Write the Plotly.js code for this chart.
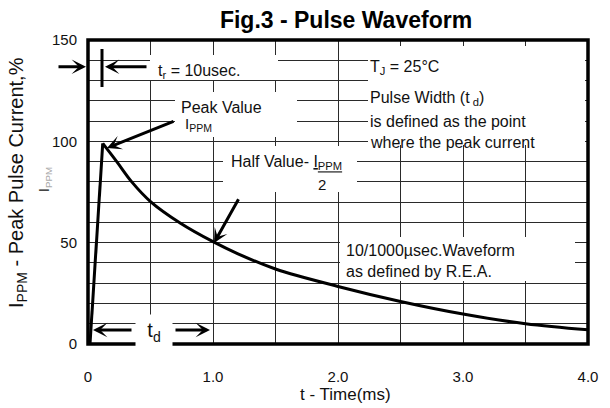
<!DOCTYPE html>
<html>
<head>
<meta charset="utf-8">
<script src="https://cdn.plot.ly/plotly-3.0.1.min.js"></script>
<style>html,body{margin:0;padding:0;background:#fff;}#chart{width:610px;height:408px;}</style>
</head>
<body>
<div id="chart"></div>
<script>
// ---- data ----
const riseX = [0.016, 0.118];
const riseY = [0, 99];
const decayX = [0.118, 0.23, 0.35, 0.5, 0.74, 1.0, 1.2, 1.5, 2.0, 2.5, 3.0, 3.5, 4.0];
const decayY = [99, 90, 80, 70.3, 59.6, 50.5, 44.5, 37, 28.4, 21, 14.8, 10, 7];
const xTickVals = [0, 1, 2, 3, 4];
const xTickText = ['0', '1.0', '2.0', '3.0', '4.0'];
const yTickVals = [0, 50, 100, 150];
const yTickText = ['0', '50', '100', '150'];

// ---- layout helpers (page pixel -> paper) ----
const L = 88, T = 40, W = 500, H = 304;
const fx = px => (px - L) / W;
const fy = py => (T + H - py) / H;
const FONT = 'Liberation Sans, Arial, Helvetica, sans-serif';
const INK = '#111';
const GRID = '#2a2a2a';

function txt(text, px, py, size, xanchor, extra) {
  return Object.assign({
    text: text, xref: 'paper', yref: 'paper', x: fx(px), y: fy(py),
    xanchor: xanchor || 'left', yanchor: 'middle', showarrow: false,
    font: {family: FONT, size: size, color: INK}
  }, extra || {});
}
function arrow(hx, hy, ax, ay) {
  return {
    xref: 'paper', yref: 'paper', x: fx(hx), y: fy(hy), ax: ax, ay: ay,
    showarrow: true, arrowhead: 3, arrowsize: 0.8, arrowwidth: 3,
    arrowcolor: '#000', standoff: 0, startstandoff: 0
  };
}
function whiteBox(x0, y0, x1, y1) {
  return {type: 'rect', xref: 'paper', yref: 'paper', x0: fx(x0), x1: fx(x1),
    y0: fy(y1), y1: fy(y0), fillcolor: '#fff', line: {width: 0}, layer: 'above'};
}

const traces = [
  {x: riseX, y: riseY, type: 'scatter', mode: 'lines',
   line: {color: '#000', width: 3}, hoverinfo: 'skip', showlegend: false},
  {x: decayX, y: decayY, type: 'scatter', mode: 'lines',
   line: {color: '#000', width: 3, shape: 'spline', smoothing: 1}, hoverinfo: 'skip', showlegend: false}
];

const layout = {
  width: 610, height: 408, autosize: false,
  margin: {l: L, r: 610 - L - W, t: T, b: 408 - T - H, pad: 0},
  paper_bgcolor: '#fff', plot_bgcolor: '#fff',
  font: {family: FONT, color: INK, size: 15},
  title: {text: '<b>Fig.3 - Pulse Waveform</b>', xref: 'paper', x: fx(346), xanchor: 'center',
          yref: 'container', y: 1 - 20 / 408, yanchor: 'middle',
          font: {family: FONT, size: 23, color: '#000'}},
  xaxis: {range: [0, 4], tickvals: xTickVals, ticktext: xTickText, ticks: '',
          showgrid: true, gridcolor: GRID, gridwidth: 1, zeroline: false, showline: false,
          minor: {dtick: 0.5, showgrid: true, gridcolor: GRID, gridwidth: 1, ticks: ''},
          ticklabelstandoff: 22, tickfont: {family: FONT, size: 15, color: INK}, fixedrange: true},
  yaxis: {range: [0, 150], tickvals: yTickVals, ticktext: yTickText, ticks: '',
          showgrid: true, gridcolor: GRID, gridwidth: 1, zeroline: false, showline: false,
          minor: {dtick: 10, showgrid: true, gridcolor: GRID, gridwidth: 1, ticks: ''},
          ticklabelstandoff: 10, tickfont: {family: FONT, size: 15, color: INK}, fixedrange: true},
  shapes: [
    whiteBox(150, 55, 278, 80),     // t_r label
    whiteBox(175, 92, 297, 137),    // Peak value label
    whiteBox(368, 46, 585, 145),    // T_J block
    whiteBox(223, 146, 357, 192),   // Half value label
    whiteBox(340, 237, 575, 281),   // waveform label
    // frame
    {type: 'rect', xref: 'paper', yref: 'paper', x0: 0, x1: 1, y0: 0, y1: 1,
     line: {color: '#000', width: 3.5}, layer: 'above'},
    // t_r marker bar
    {type: 'line', xref: 'paper', yref: 'paper', x0: fx(102), x1: fx(102), y0: fy(49), y1: fy(87),
     line: {color: '#000', width: 3}, layer: 'above'}
  ],
  annotations: [
    // axis titles
    txt('t - Time(ms)', 345, 395, 17, 'center'),
    Object.assign(txt('I<sub>PPM</sub> - Peak Pulse Current,%', 17, 183, 20, 'center'), {textangle: -90}),
    Object.assign(txt('I<sub><span style="color:#aaa">PPM</span></sub>', 45, 180, 14, 'center'), {textangle: -90}),
    // labels
    txt('t<sub>r</sub> = 10usec.', 156, 71, 16),
    txt('Peak Value', 179, 107, 16),
    txt('I<sub>PPM</sub>', 183, 125, 15),
    txt('T<sub>J</sub> = 25°C', 368, 67, 16),
    txt('Pulse Width (t<sub> d</sub>)', 368, 98, 16),
    txt('is defined as the point', 368, 121, 16),
    txt('where the peak current', 368, 142, 16),
    txt('Half Value- <u>I<sub>PPM</sub></u>', 229, 162, 16),
    txt('2', 322, 184, 15, 'center'),
    txt('10/1000µsec.Waveform', 344, 250, 16),
    txt('as defined by R.E.A.', 344, 271, 16),
    // arrows
    arrow(86, 66.7, -31, 0),
    arrow(105, 66.7, 45, 0),
    arrow(107, 148, 70, -28),
    arrow(214, 243, 28, -50),
    arrow(93, 330, 42, 0),
    arrow(210, 330, -38, 0),
    // t_d label (covers frame)
    txt('t<sub>d</sub>', 153.5, 332, 20, 'center', {bgcolor: '#fff', width: 36, height: 34, borderpad: 0})
  ]
};

Plotly.newPlot('chart', traces, layout, {staticPlot: true, displayModeBar: false});
</script>
</body>
</html>
